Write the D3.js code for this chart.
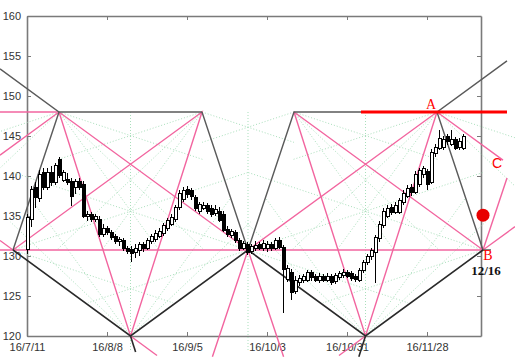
<!DOCTYPE html>
<html>
<head>
<meta charset="utf-8">
<script src="https://cdn.jsdelivr.net/npm/d3@7"></script>
<style>
body { margin: 0; background: #fff; }
svg { display: block; }
</style>
</head>
<body>
<div id="chart"></div>
<script>
// x = trading day index, 0 = 16/7/11
var tickDays = [0, 20, 40, 60, 80, 100];
var tickLabels = ["16/7/11", "16/8/8", "16/9/5", "16/10/3", "16/10/31", "16/11/28"];
var priceTicks = [120, 125, 130, 135, 140, 145, 150, 155, 160];

// daily candles (GBP/JPY), one per trading day from 16/7/11
var opens = [130.8,134.6,138.6,137.2,140.4,138.6,140.5,139.2,142.1,139.5,139.6,139.3,138.6,139.3,139.0,135.0,135.2,134.6,134.6,132.7,
  133.5,132.9,132.4,131.8,132.0,130.9,130.8,130.4,130.7,131.4,131.0,131.8,132.1,132.5,132.8,133.4,134.0,134.6,136.1,137.1,
  138.3,138.2,137.3,135.6,136.0,136.3,136.0,135.3,135.6,135.2,133.3,132.6,132.9,131.9,130.9,131.5,130.6,130.9,131.5,130.9,
  131.0,131.4,131.0,132.0,131.1,127.1,128.0,125.6,126.7,126.9,127.0,128.0,127.4,127.0,127.5,127.0,127.4,126.8,127.3,127.6,
  128.0,127.8,127.4,127.0,128.2,129.2,129.9,130.5,132.2,133.8,135.0,136.1,135.5,135.5,136.7,137.5,138.6,137.9,139.0,140.2,
  140.6,139.2,142.8,143.5,143.6,144.9,144.0,144.6,143.6,143.5];
var highs = [135.2,138.8,139.3,140.7,141.0,141.0,141.2,141.6,142.4,140.8,140.4,139.8,139.6,139.7,139.4,135.6,135.5,135.3,135.0,134.0,
  133.8,133.3,132.7,132.4,132.3,131.3,131.2,131.5,131.8,131.7,132.2,132.7,133.2,133.5,134.1,134.8,135.2,136.4,138.2,138.6,
  138.7,138.5,137.6,136.7,136.7,136.6,136.4,136.4,136.1,135.6,133.7,133.4,133.2,132.2,131.9,131.8,131.5,131.9,131.8,132.0,
  131.9,131.7,132.3,132.4,131.4,128.9,128.4,127.5,127.6,127.8,128.2,128.3,127.8,127.9,127.8,127.9,127.7,127.9,128.1,128.4,
  128.3,128.1,127.7,128.5,129.5,130.2,131.0,132.6,134.4,136.0,136.4,136.5,136.7,137.3,138.2,138.9,139.0,140.6,141.0,141.3,
  140.9,143.4,144.0,145.7,145.0,145.3,145.7,144.9,144.8,145.3];
var lows = [130.3,133.6,136.0,136.8,138.2,138.3,138.8,138.9,139.8,139.2,138.9,136.2,137.8,138.3,134.8,134.4,134.2,134.2,132.4,132.4,
  132.6,132.0,131.5,131.3,130.6,130.2,129.2,129.8,130.0,130.5,130.8,131.5,131.8,132.2,132.5,133.1,133.7,134.3,135.8,136.8,
  137.3,137.0,135.6,135.3,135.7,135.3,134.9,135.0,134.2,133.0,132.4,132.2,131.6,130.6,130.7,130.1,130.3,130.6,130.7,130.6,
  130.5,130.6,130.8,130.9,122.9,126.8,124.5,125.2,126.3,126.6,126.7,126.9,126.7,126.6,126.7,126.7,126.4,126.5,127.0,127.3,
  127.2,126.9,126.8,126.8,127.9,128.9,129.5,126.6,131.8,133.5,134.7,135.1,135.2,135.2,136.4,137.2,137.5,137.7,138.6,139.8,
  138.3,139.0,142.4,143.3,143.2,143.9,143.7,143.2,143.3,143.3];
var closes = [134.8,138.3,137.3,140.2,138.6,140.5,139.2,141.3,140.1,140.4,139.2,137.4,139.3,138.6,135.0,135.2,134.6,135.0,132.7,133.5,
  132.9,132.3,131.8,132.1,130.9,130.6,130.3,131.0,131.4,131.0,131.9,132.4,132.8,133.1,133.8,134.5,134.8,136.1,137.8,138.2,
  137.7,137.4,135.9,136.4,136.3,135.6,135.2,135.8,134.5,133.2,132.7,133.1,131.9,130.9,131.6,130.5,131.2,131.3,131.0,131.6,
  131.4,130.9,132.0,131.1,128.3,128.4,125.5,127.0,127.2,127.4,127.9,127.3,127.0,127.5,127.0,127.4,126.7,127.6,127.8,128.0,
  127.5,127.2,127.1,128.2,129.2,129.9,130.7,132.3,134.0,135.6,136.0,135.5,136.3,137.0,137.8,138.5,137.9,140.2,140.7,141.0,
  139.0,143.0,143.6,144.7,144.6,144.3,144.6,143.5,144.3,145.0];

// turning points of the drawn construction: [day, price]
var pointKeys = ["M0","M1","M2","T1","T2","T3","T4","B1","B2","S1","S2",
  "L0","L1","L2","L3","L4","R0","R1","R2","R3","R4","D1","D2","D3","D4","D5","D6","A0","A1"];
var pointDays = [-3.5,55.25,114,8,43.75,66.75,102.5,25.875,84.625,25.875,84.625,
  -6.75,-6.75,-6.75,-6.75,-6.75,120,119,122,120,116,27.15,82.96,32.5,78,46.35,64.15,83.5,120];
var pointPrices = [130.75,130.75,130.75,148,148,148,148,120,120,135.6,135.6,
  153.39,148,130.75,142.6,131.94,154.39,141.98,133.67,139.75,130.75,118,117.4,117.57,117.57,117.4,117.4,148,148];

var grayPaths = [["L0","T1","T2"], ["M0","T1"], ["T2","M1","T3","T4","R0"], ["T4","M2","R4"]];
var darkPaths = [["M0","B1","M1","B2","M2"], ["B1","D1"], ["B2","D2"]];
var pinkPaths = [["L1","T1"], ["L2","M2"], ["L3","T1","M1","T4","R1"], ["L4","M0","T2","B1","T1"],
  ["T3","B2","T4"], ["T3","M2","R2"], ["M2","R3"], ["B1","D3"], ["B2","D4"], ["D5","M1","D6"]];

// dotted fan rays: [from, direction, slope (price per day), length (days)]
var fanRays = [
  ["T1",-1,-0.165,30],["T1",-1,-0.475,36],["T1",1,-0.69,25],["T1",1,-0.165,36],["T1",1,-0.475,36],
  ["T2",-1,-0.69,25],["T2",-1,-0.165,36],["T2",-1,-0.475,36],["T2",1,-0.165,23],
  ["T3",1,-0.69,25],["T3",1,-0.165,36],["T3",1,-0.475,36],["T3",-1,-0.165,23],
  ["T4",-1,-0.69,25],["T4",-1,-0.165,36],["T4",-1,-0.475,36],["T4",1,-0.165,20],["T4",1,-0.475,20],
  ["M0",1,0.165,58.75],["M1",-1,0.165,58.75],["M1",1,0.165,58.75],["M2",-1,0.165,58.75],
  ["M0",1,-0.165,40],["M1",-1,-0.165,40],["M1",1,-0.165,40],["M2",-1,-0.165,40],
  ["B1",-1,0.475,30],["B1",1,0.475,30],["B2",-1,0.475,30],["B2",1,0.475,30],
  ["B1",-1,0.69,25],["B1",1,0.69,25],["B2",-1,0.69,25],["B2",1,0.69,25]
];
var fanVerticals = ["B1","M1","B2"];

var width = 515, height = 363;

var x = d3.scaleLinear().domain([0, 113.5]).range([27, 481]);
var y = d3.scaleLinear().domain([120, 160]).range([336, 16]);

var svg = d3.select("#chart")
    .append("svg")
    .attr("width", width)
    .attr("height", height)
    .style("font-family", "'Liberation Sans', Arial, sans-serif");

function pt(k) {
    var i = pointKeys.indexOf(k);
    return [pointDays[i], pointPrices[i]];
}

var line = d3.line()
    .x(function(d) { return x(d[0]); })
    .y(function(d) { return y(d[1]); });

// frame + axes
svg.append("g").attr("transform", "translate(" + x(0) + ",0)")
    .call(d3.axisLeft(y).tickValues(priceTicks).tickSizeInner(-4).tickSizeOuter(0).tickPadding(6));
svg.append("g").attr("transform", "translate(0," + y(120) + ")")
    .call(d3.axisBottom(x).tickValues(tickDays).tickFormat(function(d, i) { return tickLabels[i]; })
        .tickSizeInner(-4).tickSizeOuter(0).tickPadding(7));
svg.append("g").attr("transform", "translate(0," + y(160) + ")")
    .call(d3.axisTop(x).tickValues(tickDays).tickFormat("").tickSizeInner(-4).tickSizeOuter(0));
svg.append("g").attr("transform", "translate(" + x(113.5) + ",0)")
    .call(d3.axisRight(y).tickValues(priceTicks).tickFormat("").tickSizeInner(-4).tickSizeOuter(0));

svg.selectAll(".domain").attr("stroke", "#7a7a7a").attr("stroke-width", 1.6);
svg.selectAll(".tick line").attr("stroke", "#7a7a7a");
svg.selectAll(".tick text").attr("fill", "#333").style("font-size", "11px");

// dotted fans
var fan = svg.append("g")
    .attr("fill", "none")
    .attr("stroke", "#a9dfbb")
    .attr("stroke-width", 1)
    .attr("stroke-dasharray", "1,2");

fan.selectAll("path.ray")
    .data(fanRays)
    .enter()
    .append("path")
    .attr("class", "ray")
    .attr("d", function(r) {
        var p = pt(r[0]);
        return line([p, [p[0] + r[1] * r[3], p[1] + r[2] * r[3]]]);
    });

fan.selectAll("path.vert")
    .data(fanVerticals)
    .enter()
    .append("path")
    .attr("class", "vert")
    .attr("d", function(k) {
        var p = pt(k);
        return line([[p[0], 148], [p[0], 118]]);
    });

// pink construction
svg.append("g")
    .selectAll("path")
    .data(pinkPaths)
    .enter()
    .append("path")
    .attr("d", function(d) { return line(d.map(pt)); })
    .attr("fill", "none")
    .attr("stroke", "#f2659f")
    .attr("stroke-width", 1.4);

svg.append("g")
    .selectAll("path")
    .data(grayPaths)
    .enter()
    .append("path")
    .attr("d", function(d) { return line(d.map(pt)); })
    .attr("fill", "none")
    .attr("stroke", "#5a5a5a")
    .attr("stroke-width", 1.4);

svg.append("g")
    .selectAll("path")
    .data(darkPaths)
    .enter()
    .append("path")
    .attr("d", function(d) { return line(d.map(pt)); })
    .attr("fill", "none")
    .attr("stroke", "#2a2a2a")
    .attr("stroke-width", 1.6);

// candles
var candles = svg.append("g").attr("shape-rendering", "crispEdges");
var idx = d3.range(closes.length);

candles.selectAll("line")
    .data(idx)
    .enter()
    .append("line")
    .attr("x1", function(i) { return Math.round(x(i)) + 0.5; })
    .attr("x2", function(i) { return Math.round(x(i)) + 0.5; })
    .attr("y1", function(i) { return y(highs[i]); })
    .attr("y2", function(i) { return y(lows[i]); })
    .attr("stroke", "#000");

candles.selectAll("rect")
    .data(idx)
    .enter()
    .append("rect")
    .attr("x", function(i) { return Math.round(x(i)) - 1; })
    .attr("width", 3)
    .attr("y", function(i) { return y(Math.max(opens[i], closes[i])); })
    .attr("height", function(i) { return Math.max(1, Math.abs(y(opens[i]) - y(closes[i]))); })
    .attr("fill", function(i) { return closes[i] >= opens[i] ? "#fff" : "#000"; })
    .attr("stroke", "#000")
    .attr("stroke-width", 1);

// annotations
svg.append("path")
    .attr("d", line([pt("A0"), pt("A1")]))
    .attr("stroke", "#f00")
    .attr("stroke-width", 3);

svg.append("circle")
    .attr("cx", x(114))
    .attr("cy", y(135.1))
    .attr("r", 6.5)
    .attr("fill", "#e80000");

var t4 = pt("T4"), m2 = pt("M2");
svg.append("text").text("A")
    .attr("x", x(t4[0]) - 6).attr("y", y(t4[1]) - 3)
    .attr("text-anchor", "middle")
    .style("font-family", "'Liberation Serif', serif")
    .style("font-size", "14px").attr("fill", "#f00");
svg.append("text").text("B")
    .attr("x", x(m2[0]) + 5).attr("y", y(m2[1]) + 10)
    .attr("text-anchor", "middle")
    .style("font-family", "'Liberation Serif', serif")
    .style("font-size", "14px").attr("fill", "#f00");
svg.append("text").text("C")
    .attr("x", x(117.5)).attr("y", y(141.6) + 5)
    .attr("text-anchor", "middle")
    .style("font-size", "14px").attr("fill", "#f00");
svg.append("text").text("12/16")
    .attr("x", x(m2[0]) + 3).attr("y", y(m2[1]) + 25)
    .attr("text-anchor", "middle")
    .style("font-family", "'Liberation Serif', serif")
    .style("font-weight", "bold")
    .style("font-size", "13px").attr("fill", "#111");
</script>
</body>
</html>
